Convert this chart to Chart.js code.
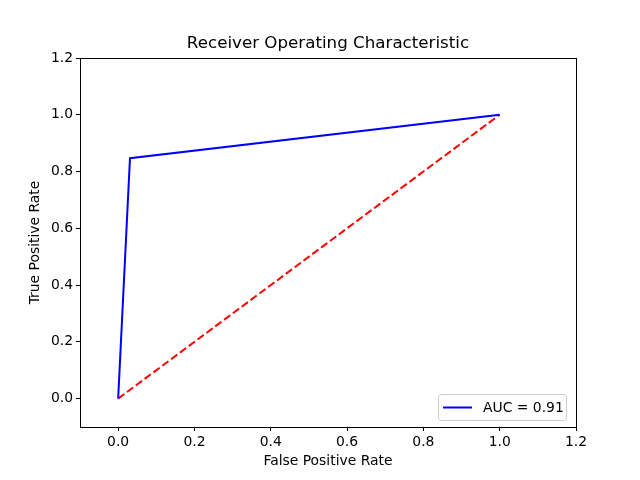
<!DOCTYPE html>
<html>
<head>
<meta charset="utf-8">
<script src="https://cdn.jsdelivr.net/npm/chart.js@4"></script>
<style>
  html, body { margin: 0; padding: 0; background: #fff; }
  #wrap { width: 640px; height: 480px; }
</style>
</head>
<body>
<div id="wrap"><canvas id="c" width="640" height="480"></canvas></div>
<script>
const fpr = [0, 0.031, 1];
const tpr = [0, 0.847, 1];
const chanceX = [0, 1];
const chanceY = [0, 1];
const xTicks = [0, 0.2, 0.4, 0.6, 0.8, 1.0, 1.2];
const yTicks = [0, 0.2, 0.4, 0.6, 0.8, 1.0, 1.2];
const rocLabel = 'AUC = 0.91';
const chartTitle = 'Receiver Operating Characteristic';
const FONT = "'DejaVu Sans', sans-serif";

const frame = {
  id: 'frame',
  afterDraw(chart) {
    const {ctx, chartArea: a} = chart;
    ctx.save();
    ctx.strokeStyle = '#000';
    ctx.lineWidth = 1;
    ctx.strokeRect(Math.round(a.left) + 0.5, Math.round(a.top) + 0.5,
                   Math.round(a.right - a.left), Math.round(a.bottom - a.top));
    // title centred over the plot area
    ctx.fillStyle = '#000';
    ctx.font = "16.7px " + FONT;
    ctx.textAlign = 'center';
    ctx.textBaseline = 'middle';
    ctx.fillText(chartTitle, (a.left + a.right) / 2, a.top - 14);
    // legend
    const bw = 128, bh = 26;
    const bx = a.right - 10 - bw, by = a.bottom - 7 - bh;
    ctx.beginPath();
    if (ctx.roundRect) ctx.roundRect(bx + 0.5, by + 0.5, bw, bh, 3); else ctx.rect(bx + 0.5, by + 0.5, bw, bh);
    ctx.fillStyle = 'rgba(255,255,255,0.8)';
    ctx.fill();
    ctx.strokeStyle = '#cccccc';
    ctx.stroke();
    const ly = by + bh / 2 + 0.5;
    ctx.beginPath();
    ctx.moveTo(bx + 5, ly);
    ctx.lineTo(bx + 34, ly);
    ctx.strokeStyle = '#0000ff';
    ctx.lineWidth = 2;
    ctx.stroke();
    ctx.fillStyle = '#000';
    ctx.font = "13.9px " + FONT;
    ctx.textBaseline = 'middle';
    ctx.textAlign = 'left';
    ctx.fillText(rocLabel, bx + 45, ly + 1);
    ctx.restore();
  }
};

new Chart(document.getElementById('c'), {
  type: 'scatter',
  data: {
    datasets: [
      {
        label: rocLabel,
        data: fpr.map((x, i) => ({x, y: tpr[i]})),
        showLine: true,
        borderColor: '#0000ff',
        borderWidth: 2,
        pointRadius: 0,
        fill: false
      },
      {
        label: 'chance',
        data: chanceX.map((x, i) => ({x, y: chanceY[i]})),
        showLine: true,
        borderColor: '#ff0000',
        borderWidth: 2,
        borderDash: [7.7, 3.3],
        pointRadius: 0,
        fill: false
      }
    ]
  },
  options: {
    responsive: false,
    animation: false,
    devicePixelRatio: 1,
    layout: { padding: { top: 58, left: 0, right: 64, bottom: 0 } },
    plugins: {
      legend: { display: false },
      tooltip: { enabled: false },
      title: { display: false }
    },
    scales: {
      x: {
        type: 'linear',
        min: -0.1,
        max: 1.2,
        afterBuildTicks: s => { s.ticks = xTicks.map(v => ({value: v})); },
        afterFit: s => { s.height = 53; },
        ticks: {
          color: '#000',
          font: { family: FONT, size: 13.9 },
          padding: 3,
          maxRotation: 0,
          autoSkip: false,
          callback: v => Number(v).toFixed(1)
        },
        grid: { drawOnChartArea: false, drawTicks: true, tickLength: 4, tickColor: '#000' },
        border: { display: true, color: '#000', width: 1 },
        title: {
          display: true,
          text: 'False Positive Rate',
          color: '#000',
          font: { family: FONT, size: 13.9 },
          padding: 10
        }
      },
      y: {
        type: 'linear',
        min: -0.1,
        max: 1.2,
        afterBuildTicks: s => { s.ticks = yTicks.map(v => ({value: v})); },
        afterFit: s => { s.width = 80; },
        ticks: {
          color: '#000',
          font: { family: FONT, size: 13.9 },
          padding: 3,
          autoSkip: false,
          callback: v => Number(v).toFixed(1)
        },
        grid: { drawOnChartArea: false, drawTicks: true, tickLength: 4, tickColor: '#000' },
        border: { display: true, color: '#000', width: 1 },
        title: {
          display: true,
          text: 'True Positive Rate',
          color: '#000',
          font: { family: FONT, size: 13.9 },
          padding: 27
        }
      }
    }
  },
  plugins: [frame]
});
</script>
</body>
</html>
